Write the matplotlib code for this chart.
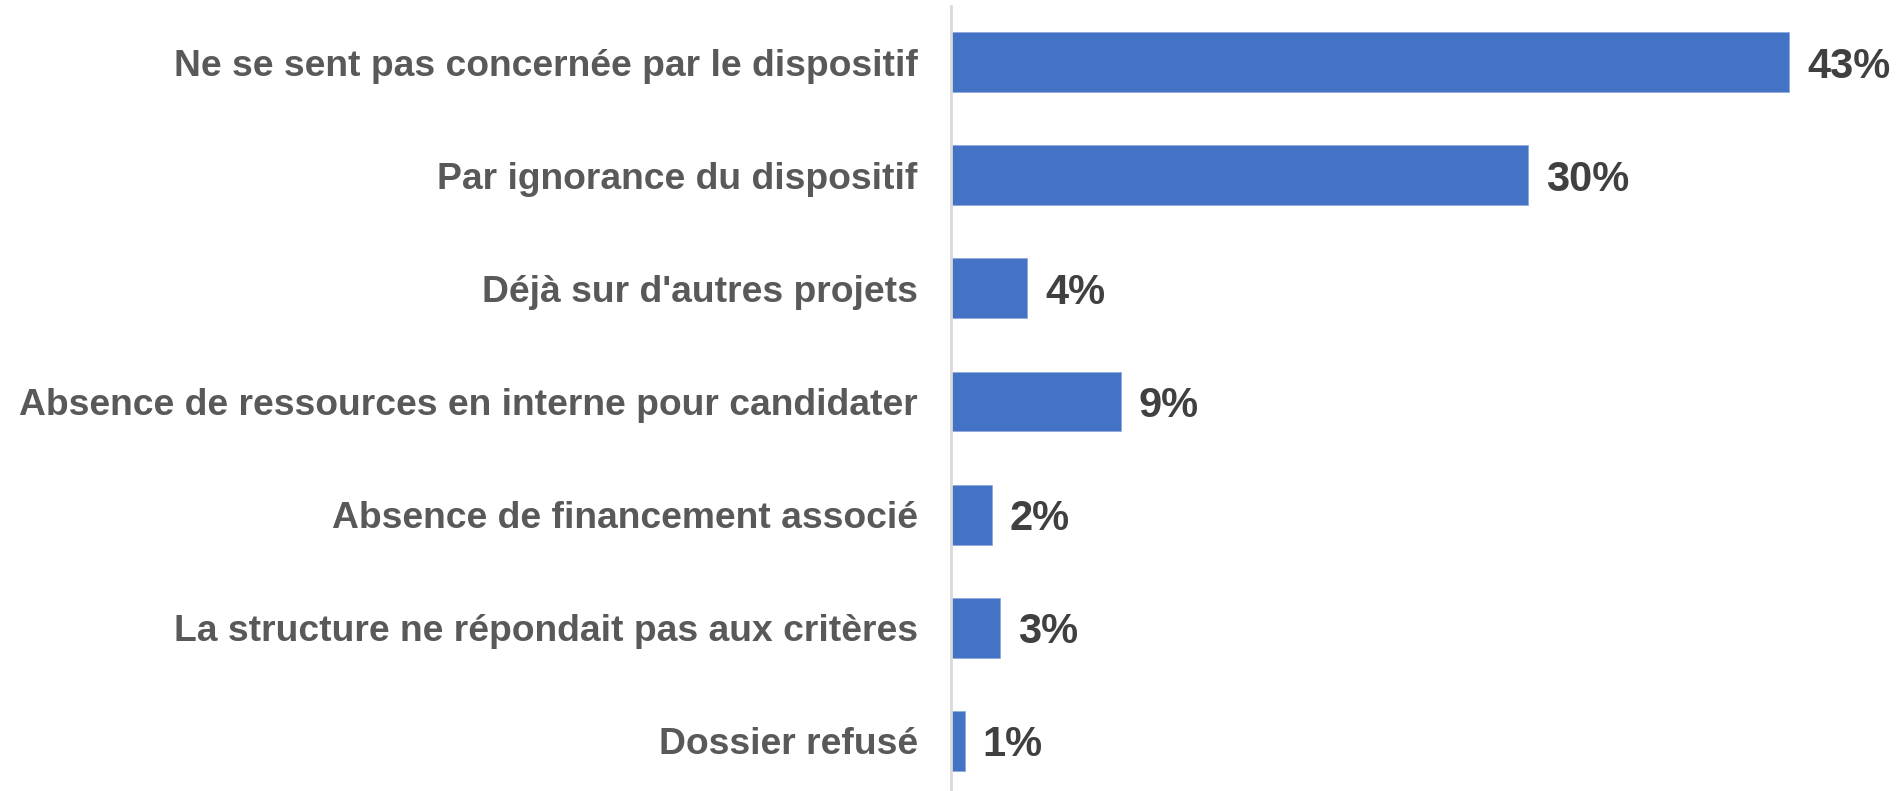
import matplotlib
matplotlib.use("Agg")
import matplotlib.pyplot as plt

categories = [
    "Ne se sent pas concernée par le dispositif",
    "Par ignorance du dispositif",
    "Déjà sur d'autres projets",
    "Absence de ressources en interne pour candidater",
    "Absence de financement associé",
    "La structure ne répondait pas aux critères",
    "Dossier refusé",
]
values = [43.0, 29.6, 3.9, 8.7, 2.1, 2.5, 0.7]
value_labels = ["43%", "30%", "4%", "9%", "2%", "3%", "1%"]

W, H = 1903, 791
fig = plt.figure(figsize=(W / 100, H / 100), dpi=100)
px_per_unit = 19.49
xmax = 48.0
left = 951
bottom_px = 797.5
top_px = 5.5
ax = fig.add_axes([left / W, 1 - bottom_px / H, xmax * px_per_unit / W, (bottom_px - top_px) / H])

y = list(range(len(categories)))
ax.barh(y, values, height=0.53, color="#4472C4", edgecolor="#8FAADC", linewidth=0.6)
ax.set_ylim(len(categories) - 0.5, -0.5)
ax.set_xlim(0, xmax)

for yi, v, lab in zip(y, values, value_labels):
    ax.annotate(lab, (v, yi), xytext=(18, 0), textcoords="offset pixels",
                ha="left", va="center_baseline", fontsize=30, fontweight="bold",
                color="#404040", family="Liberation Sans")

ax.set_yticks(y)
ax.set_yticklabels(categories, fontsize=26.8, fontweight="bold", color="#595959",
                   family="Liberation Sans", va="center_baseline")
ax.tick_params(axis="y", length=0, pad=24)
ax.set_xticks([])
for s in ["top", "right", "bottom"]:
    ax.spines[s].set_visible(False)
ax.spines["left"].set_color("#D9D9D9")
ax.spines["left"].set_linewidth(2)

fig.savefig("out.png", dpi=100)
